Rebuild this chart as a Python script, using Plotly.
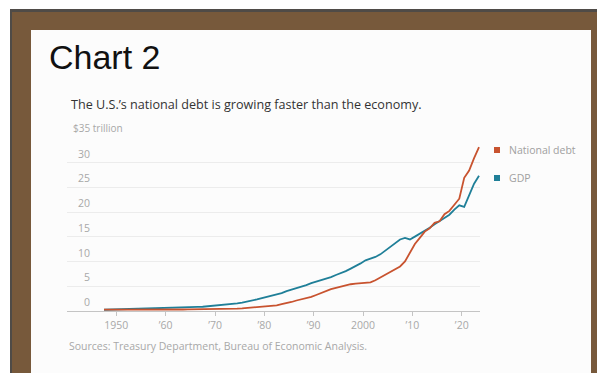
import plotly.graph_objects as go

# ---------------- data (trillions of dollars) ----------------
years = list(range(1947, 2024))

national_debt = [
    0.258, 0.252, 0.253, 0.257, 0.255, 0.259, 0.266, 0.271, 0.274, 0.273,
    0.271, 0.276, 0.285, 0.286, 0.289, 0.298, 0.306, 0.312, 0.317, 0.320,
    0.326, 0.348, 0.354, 0.371, 0.398, 0.427, 0.458, 0.475, 0.533, 0.620,
    0.699, 0.772, 0.827, 0.908, 0.998, 1.142, 1.377, 1.572, 1.823, 2.125,
    2.350, 2.602, 2.857, 3.233, 3.665, 4.065, 4.411, 4.693, 4.974, 5.225,
    5.413, 5.526, 5.656, 5.674, 5.807, 6.228, 6.783, 7.379, 7.933, 8.507,
    9.008, 10.025, 11.910, 13.562, 14.790, 16.066, 16.738, 17.824, 18.151, 19.573,
    20.245, 21.516, 22.719, 26.945, 28.429, 30.929, 33.167,
]

gdp = [
    0.250, 0.275, 0.275, 0.300, 0.348, 0.367, 0.389, 0.391, 0.426, 0.450,
    0.474, 0.481, 0.522, 0.543, 0.563, 0.605, 0.639, 0.686, 0.744, 0.815,
    0.862, 0.943, 1.019, 1.073, 1.165, 1.280, 1.425, 1.545, 1.684, 1.873,
    2.082, 2.352, 2.627, 2.857, 3.207, 3.343, 3.634, 4.037, 4.339, 4.580,
    4.855, 5.236, 5.642, 5.963, 6.158, 6.520, 6.859, 7.287, 7.640, 8.073,
    8.578, 9.063, 9.631, 10.251, 10.582, 10.936, 11.458, 12.214, 13.037, 13.815,
    14.475, 14.769, 14.478, 15.049, 15.600, 16.254, 16.843, 17.551, 18.206, 18.695,
    19.480, 20.527, 21.373, 21.060, 23.315, 25.744, 27.361,
]

x_tick_vals = [1950, 1960, 1970, 1980, 1990, 2000, 2010, 2020]
x_tick_text = ["1950", "\u201960", "\u201970", "\u201980", "\u201990", "2000", "\u201910", "\u201920"]

y_tick_vals = [0, 5, 10, 15, 20, 25, 30, 35]
y_tick_text = ["0", "5", "10", "15", "20", "25", "30", "$35 trillion"]

series_names = ["National debt", "GDP"]
series_colors = ["#c8532f", "#1f7f98"]

title_text = "Chart 2"
subtitle_text = "The U.S.\u2019s national debt is growing faster than the economy."
source_text = "Sources: Treasury Department, Bureau of Economic Analysis."

# ---------------- layout helpers ----------------
W, H = 597, 373
L, R, T, B = 67, 480, 138, 311   # plot area in pixels


def px_x(p):
    return (p - L) / (R - L)


def px_y(p):
    return (B - p) / (B - T)


x_mid = [y + 0.5 for y in years]  # annual values placed at mid-year

fig = go.Figure()
fig.add_trace(go.Scatter(x=x_mid, y=gdp, mode="lines", name=series_names[1],
                         line=dict(color=series_colors[1], width=1.8)))
fig.add_trace(go.Scatter(x=x_mid, y=national_debt, mode="lines", name=series_names[0],
                         line=dict(color=series_colors[0], width=1.8)))

shapes = []
# picture frame
shapes.append(dict(type="rect", xref="paper", yref="paper", layer="below",
                   x0=px_x(10), x1=px_x(605), y0=px_y(9), y1=px_y(380),
                   fillcolor="#4f4b47", line=dict(width=0)))
shapes.append(dict(type="rect", xref="paper", yref="paper", layer="below",
                   x0=px_x(12), x1=px_x(605), y0=px_y(12), y1=px_y(380),
                   fillcolor="#77593b", line=dict(width=0)))
shapes.append(dict(type="rect", xref="paper", yref="paper", layer="below",
                   x0=px_x(31), x1=px_x(591), y0=px_y(30), y1=px_y(380),
                   fillcolor="#fcfcfc", line=dict(width=0)))
# legend squares
for i, cy in enumerate([150, 178]):
    shapes.append(dict(type="rect", xref="paper", yref="paper",
                       x0=px_x(494), x1=px_x(500), y0=px_y(cy - 3), y1=px_y(cy + 3),
                       fillcolor=series_colors[i], line=dict(width=0)))

annotations = []
annotations.append(dict(text=title_text, xref="paper", yref="paper",
                        x=px_x(47), y=px_y(57), xanchor="left", yanchor="middle",
                        showarrow=False,
                        font=dict(family="Liberation Sans, Arial", size=34, color="#111111")))
annotations.append(dict(text=subtitle_text, xref="paper", yref="paper",
                        x=px_x(69), y=px_y(104), xanchor="left", yanchor="middle",
                        showarrow=False,
                        font=dict(family="Open Sans", size=12.6, color="#333333")))
annotations.append(dict(text=source_text, xref="paper", yref="paper",
                        x=px_x(67), y=px_y(346), xanchor="left", yanchor="middle",
                        showarrow=False,
                        font=dict(family="Open Sans", size=10.5, color="#a8a8a8")))
for i, cy in enumerate([150, 178]):
    annotations.append(dict(text=series_names[i], xref="paper", yref="paper",
                            x=px_x(507), y=px_y(cy), xanchor="left", yanchor="middle",
                            showarrow=False,
                            font=dict(family="Open Sans", size=10.5, color="#a0a0a0")))
# y tick labels sitting on top of gridlines
for v, t in zip(y_tick_vals, y_tick_text):
    if t.startswith("$"):
        annotations.append(dict(text=t, xref="paper", yref="y", x=px_x(71), y=v,
                                xanchor="left", yanchor="bottom", yshift=1, showarrow=False,
                                font=dict(family="Open Sans", size=10, color="#a8a8a8")))
    else:
        annotations.append(dict(text=t, xref="paper", yref="y", x=px_x(92), y=v,
                                xanchor="right", yanchor="bottom", yshift=0, showarrow=False,
                                font=dict(family="Open Sans", size=10.5, color="#a8a8a8")))

fig.update_layout(
    width=W, height=H, autosize=False,
    margin=dict(l=L, r=W - R, t=T, b=H - B, pad=0),
    paper_bgcolor="#ffffff", plot_bgcolor="rgba(0,0,0,0)",
    showlegend=False,
    shapes=shapes, annotations=annotations,
    xaxis=dict(range=[1940, 2023.7], tickvals=x_tick_vals, ticktext=x_tick_text,
               showgrid=False, zeroline=False, showline=True, linecolor="#c4c4c4", linewidth=1,
               ticks="outside", ticklen=4, tickcolor="#c4c4c4",
               tickfont=dict(family="Open Sans", size=10.5, color="#a8a8a8")),
    yaxis=dict(range=[0, 35], tickvals=y_tick_vals, showticklabels=False,
               showgrid=True, gridcolor="#ececec", gridwidth=1, zeroline=False),
)

fig.write_html("out.html")
